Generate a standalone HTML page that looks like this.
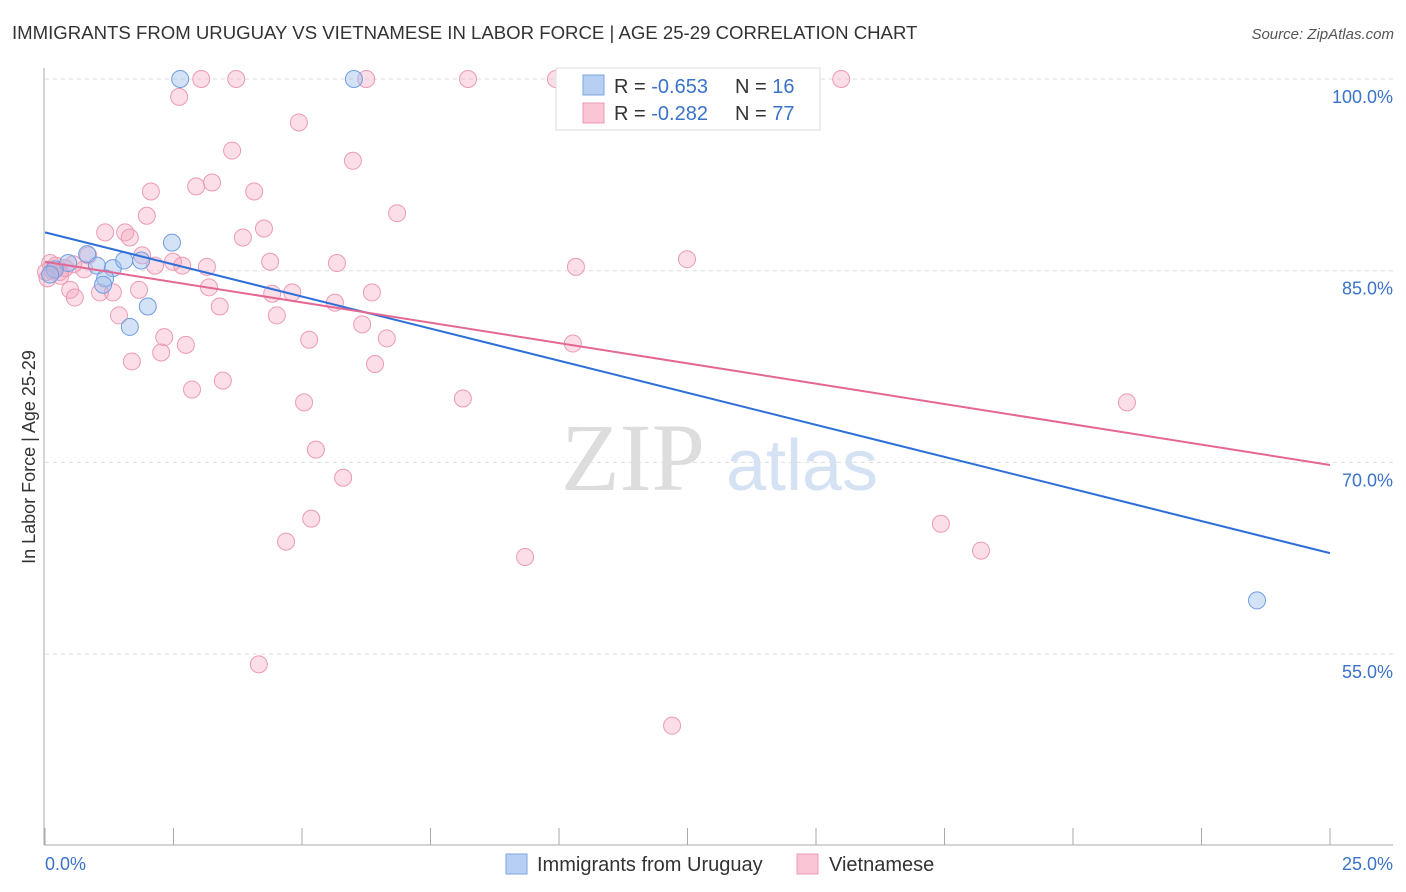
<!DOCTYPE html>
<html><head><meta charset="utf-8"><style>
body{margin:0;background:#fff;font-family:"Liberation Sans",sans-serif;}
#wrap{position:relative;width:1406px;height:892px;overflow:hidden}
</style></head><body>
<div id="wrap">
<svg id="svg" width="1406" height="892" xmlns="http://www.w3.org/2000/svg" font-family="Liberation Sans, sans-serif">
<text x="12" y="39" font-size="18.6" fill="#333">IMMIGRANTS FROM URUGUAY VS VIETNAMESE IN LABOR FORCE | AGE 25-29 CORRELATION CHART</text>
<text x="1394" y="39" font-size="15" fill="#555" font-style="italic" text-anchor="end">Source: ZipAtlas.com</text>
<text x="35" y="457" font-size="18" fill="#333" text-anchor="middle" transform="rotate(-90 35 457)">In Labor Force | Age 25-29</text>
<text x="633" y="490" font-size="96" fill="#ddd" text-anchor="middle" font-family="Liberation Serif, serif">ZIP</text>
<text x="802" y="490" font-size="72" fill="#d4e2f4" text-anchor="middle">atlas</text>
<g id="grid"></g><g id="axes"></g><g id="pts"></g><g id="lines"></g>
<g>
<rect x="556" y="68" width="264" height="62" fill="#fff" stroke="#ddd"/>
<rect x="583" y="75" width="21" height="20" fill="#b7cff3" stroke="#7ea6e0"/>
<rect x="583" y="103" width="21" height="20" fill="#fac6d5" stroke="#ea9ab4"/>
<text x="614" y="93" font-size="20" fill="#333">R = <tspan fill="#3a73c9">-0.653</tspan></text>
<text x="735" y="93" font-size="20" fill="#333">N = <tspan fill="#3a73c9">16</tspan></text>
<text x="614" y="120" font-size="20" fill="#333">R = <tspan fill="#3a73c9">-0.282</tspan></text>
<text x="735" y="120" font-size="20" fill="#333">N = <tspan fill="#3a73c9">77</tspan></text>
</g>
<g>
<rect x="506" y="854" width="21" height="20" fill="#b7cff3" stroke="#7ea6e0"/>
<text x="537" y="871" font-size="20" fill="#333">Immigrants from Uruguay</text>
<rect x="797" y="854" width="21" height="20" fill="#fac6d5" stroke="#ea9ab4"/>
<text x="829" y="871" font-size="20" fill="#333">Vietnamese</text>
</g>
</svg></div>
<script>
const yTicks=[100,85,70,55];
const yTickLabels=["100.0%","85.0%","70.0%","55.0%"];
const xTickVals=[0,2.5,5,7.5,10,12.5,15,17.5,20,22.5,25];
const xLabels=["0.0%","25.0%"];
const blueX=[2.63,6.01,2.47,0.45,1.01,1.32,1.54,1.87,0.82,1.17,1.13,2.00,1.65,23.58,0.19,0.10];
const blueY=[100,100,87.2,85.6,85.4,85.2,85.8,85.8,86.3,84.4,83.9,82.2,80.6,59.2,85.1,84.7];
const pinkX=[2.61,3.04,3.72,6.25,8.23,9.94,15.49,4.94,3.64,5.99,2.94,3.25,2.06,4.07,1.98,6.85,4.26,1.56,1.17,1.65,3.85,1.89,0.84,2.49,2.67,3.15,2.14,4.38,5.68,10.33,12.49,0.21,0.29,0.49,0.58,1.07,1.32,1.83,3.19,4.42,4.81,6.36,5.64,3.40,1.44,4.51,6.17,2.32,2.74,5.14,6.65,10.27,2.26,1.69,6.42,3.46,2.86,5.04,8.13,21.05,5.27,5.80,17.43,5.18,4.69,18.21,9.34,4.16,12.20,0.76,0.39,0.02,0.10,0.30,0.15,0.55,0.05];
const pinkY=[98.6,100,100,100,100,100,100,96.6,94.4,93.6,91.6,91.9,91.2,91.2,89.3,89.5,88.3,88.0,88.0,87.6,87.6,86.2,86.2,85.7,85.4,85.3,85.4,85.7,85.6,85.3,85.9,85.4,84.9,83.5,82.9,83.3,83.3,83.5,83.7,83.2,83.3,83.3,82.5,82.2,81.5,81.5,80.8,79.8,79.2,79.6,79.7,79.3,78.6,77.9,77.7,76.4,75.7,74.7,75.0,74.7,71.0,68.8,65.2,65.6,63.8,63.1,62.6,54.2,49.4,85.1,85.2,84.9,85.6,84.6,85.0,85.5,84.4];
const blueTrend=[88.0,62.9];
const pinkTrend=[85.7,69.8];
const X=v=>45+v/25*1285, Y=v=>79+(100-v)*12.78;
const NS="http://www.w3.org/2000/svg";
function mk(t,a,p){const e=document.createElementNS(NS,t);for(const k in a)e.setAttribute(k,a[k]);document.getElementById(p).appendChild(e);return e;}
yTicks.forEach((v,i)=>{
 const l=mk('line',{x1:45,x2:1393,y1:Y(v),y2:Y(v),stroke:'#ddd','stroke-dasharray':'4,4'},'grid');
 
 
 const t=mk('text',{x:1393,y:Y(v)+24,'font-size':18,fill:'#3a73c9','text-anchor':'end'},'grid');t.textContent=yTickLabels[i];
 
 
});
const ya=mk('line',{x1:44,x2:44,y1:68,y2:845,stroke:'#aaa'},'axes');


const xa=mk('line',{x1:44,x2:1393,y1:845,y2:845,stroke:'#aaa'},'axes');


xTickVals.forEach(v=>{const t=mk('line',{x1:X(v),x2:X(v),y1:828,y2:845,stroke:'#aaa'},'axes');
 
 });
[[0,'start',45],[25,'end',1393]].forEach((d,i)=>{const t=mk('text',{x:d[2],y:870,'font-size':18,fill:'#3a73c9','text-anchor':d[1]},'axes');t.textContent=xLabels[i];
 
 });
pinkX.forEach((v,i)=>{const c=mk('circle',{cx:X(v),cy:Y(pinkY[i]),r:8.5,fill:'rgba(244,160,187,0.35)',stroke:'#ec9ab5','stroke-width':1},'pts');
 
 });
blueX.forEach((v,i)=>{const c=mk('circle',{cx:X(v),cy:Y(blueY[i]),r:8.5,fill:'rgba(160,190,238,0.45)',stroke:'#6f9de0','stroke-width':1},'pts');
 
 });
const bl=mk('line',{x1:X(0),y1:Y(blueTrend[0]),x2:X(25),y2:Y(blueTrend[1]),stroke:'#2d6fd6','stroke-width':2},'lines');


const pl=mk('line',{x1:X(0),y1:Y(pinkTrend[0]),x2:X(25),y2:Y(pinkTrend[1]),stroke:'#e46793','stroke-width':2},'lines');


</script>
</body></html>
